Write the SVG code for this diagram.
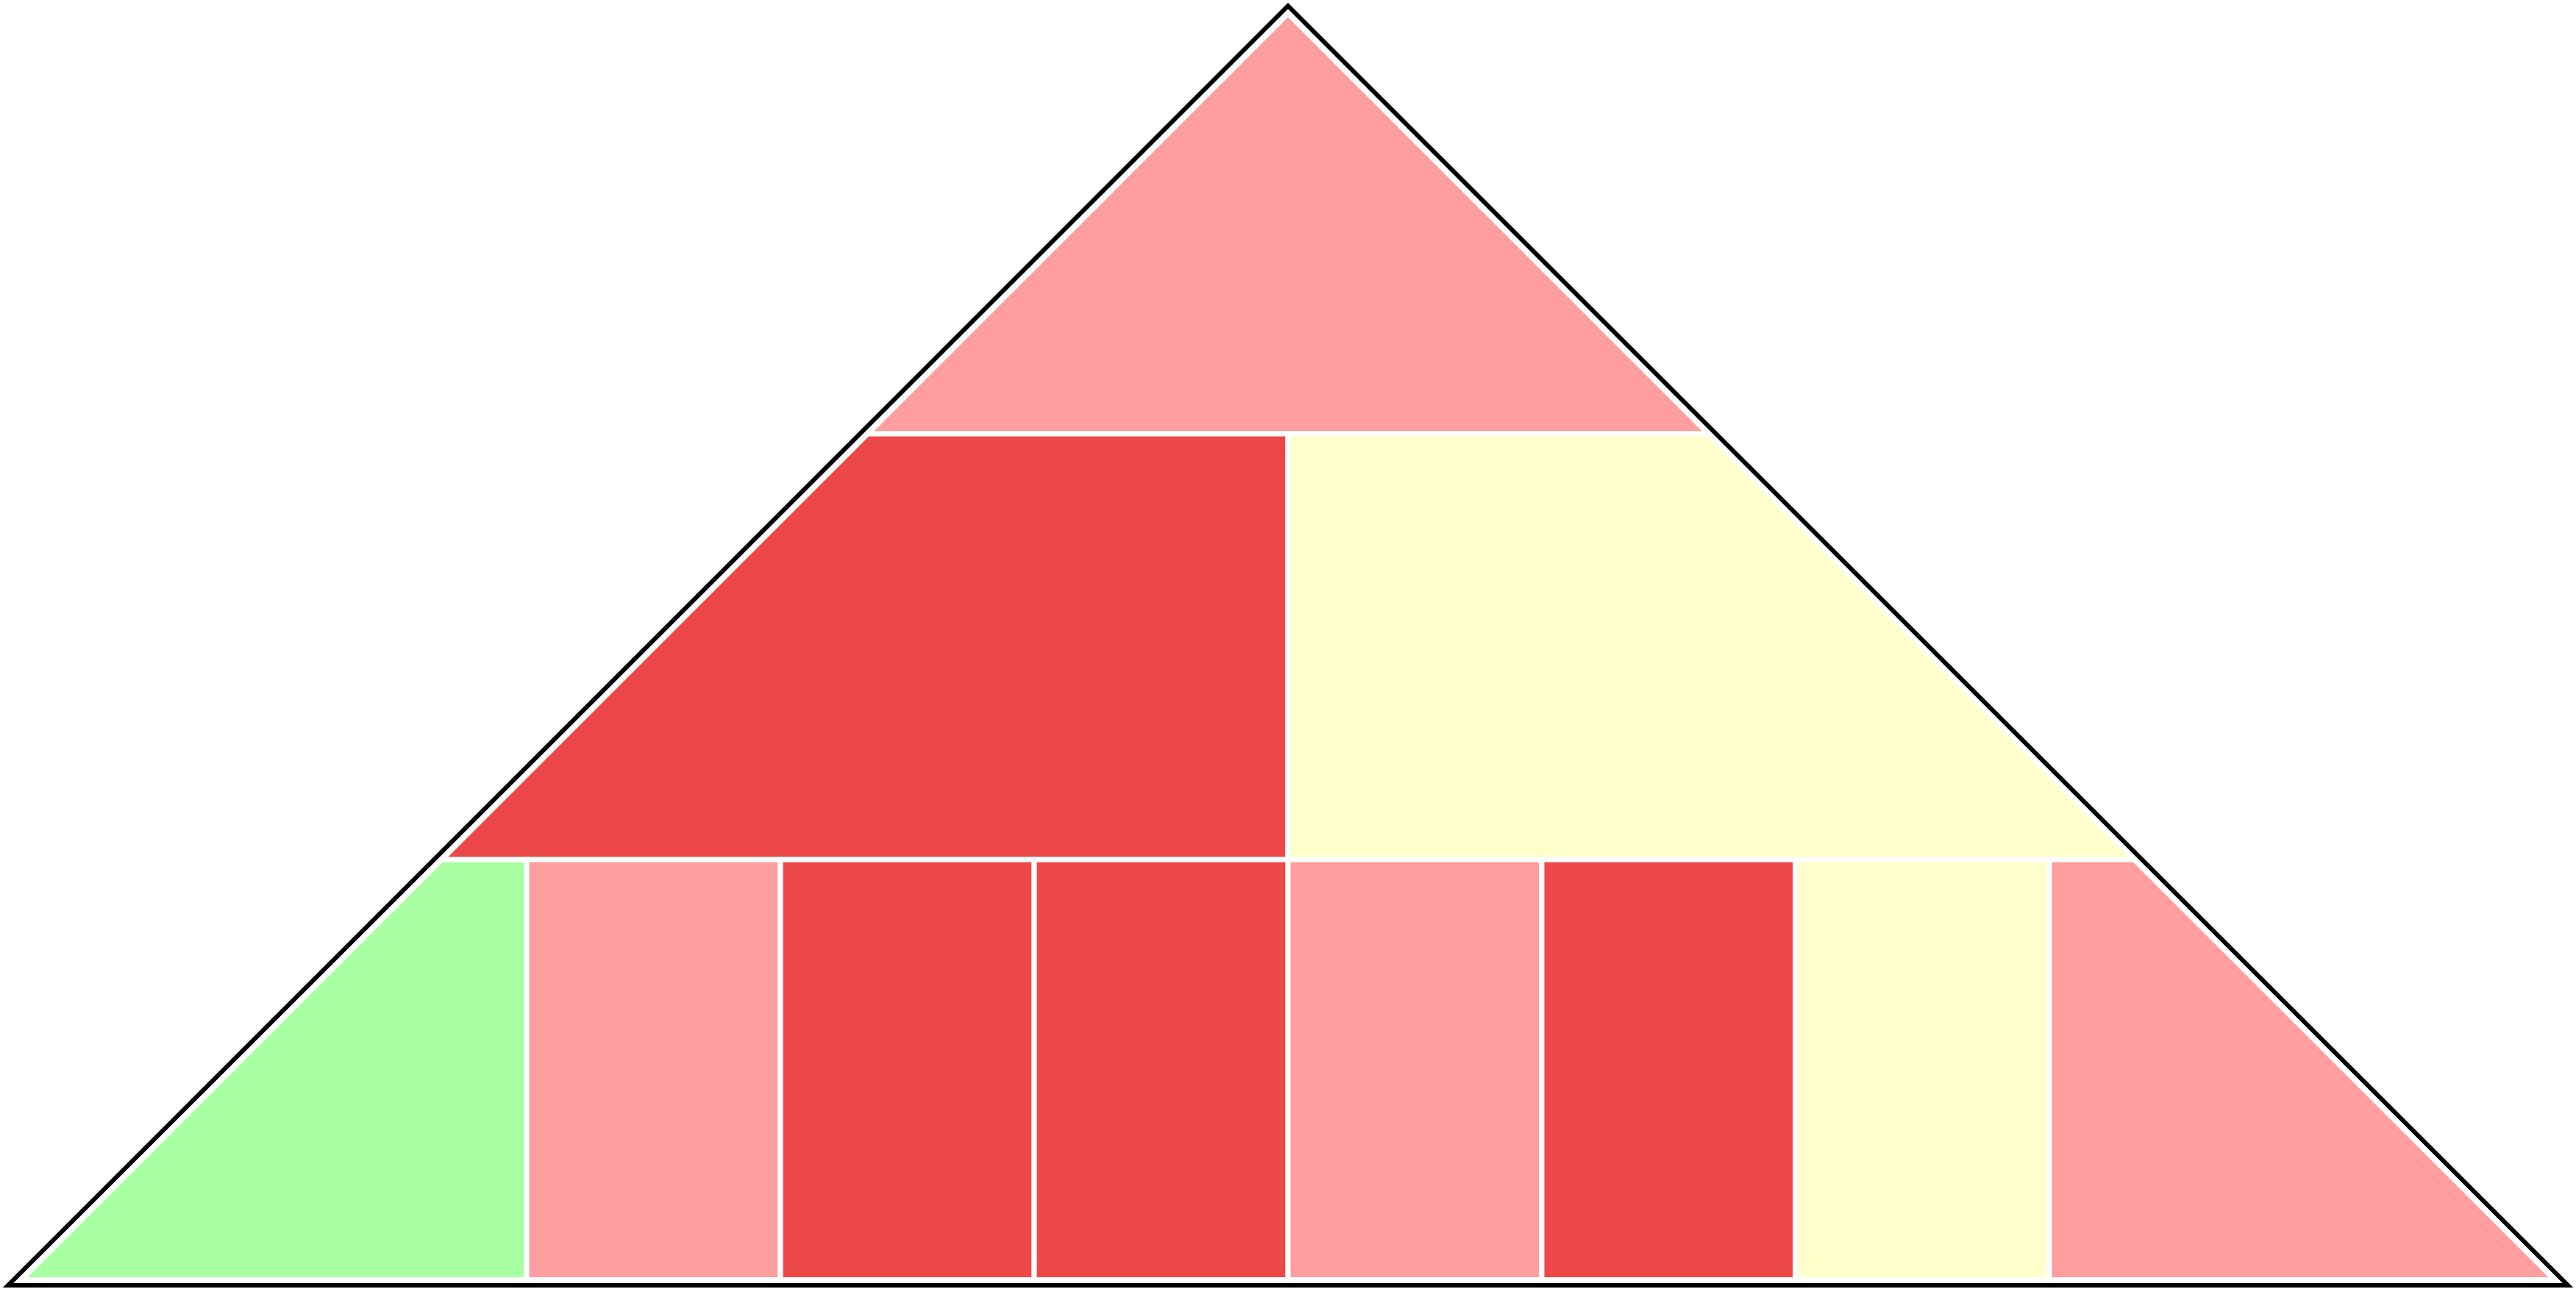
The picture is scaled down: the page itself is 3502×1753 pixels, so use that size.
<svg xmlns="http://www.w3.org/2000/svg" width="3502" height="1753" viewBox="0 0 3502 1753">
<style>
.p{stroke:#FFFFFF;stroke-width:7;stroke-linejoin:miter}
.pink{fill:#FF9E9E}
.red{fill:#EC4848}
.yellow{fill:#FFFFCC}
.green{fill:#A8FFA2}
.outline{fill:none;stroke:#000000;stroke-width:6;stroke-linejoin:miter;stroke-miterlimit:10}
</style>
<rect x="0" y="0" width="3502" height="1753" fill="#FFFFFF"/>
<g id="row1">
<polygon id="top" class="p pink" points="1751,18.6 2322.4,590 1179.6,590"/>
</g>
<g id="row2">
<polygon id="mid-left" class="p red" points="1179.6,590 1751,590 1751,1169 600.6,1169"/>
<polygon id="mid-right" class="p yellow" points="1751,590 2322.4,590 2901.4,1169 1751,1169"/>
</g>
<g id="row3">
<polygon id="b1" class="p green" points="600.6,1169 716,1169 716,1740.5 29.1,1740.5"/>
<rect id="b2" class="p pink" x="716" y="1169" width="345" height="571.5"/>
<rect id="b3" class="p red" x="1061" y="1169" width="345" height="571.5"/>
<rect id="b4" class="p red" x="1406" y="1169" width="345" height="571.5"/>
<rect id="b5" class="p pink" x="1751" y="1169" width="345" height="571.5"/>
<rect id="b6" class="p red" x="2096" y="1169" width="345" height="571.5"/>
<rect id="b7" class="p yellow" x="2441" y="1169" width="345" height="571.5"/>
<polygon id="b8" class="p pink" points="2786,1169 2901.4,1169 3472.9,1740.5 2786,1740.5"/>
</g>
<g id="frame">
<polygon class="outline" points="1751,8 3491,1748 11,1748"/>
</g>
</svg>
